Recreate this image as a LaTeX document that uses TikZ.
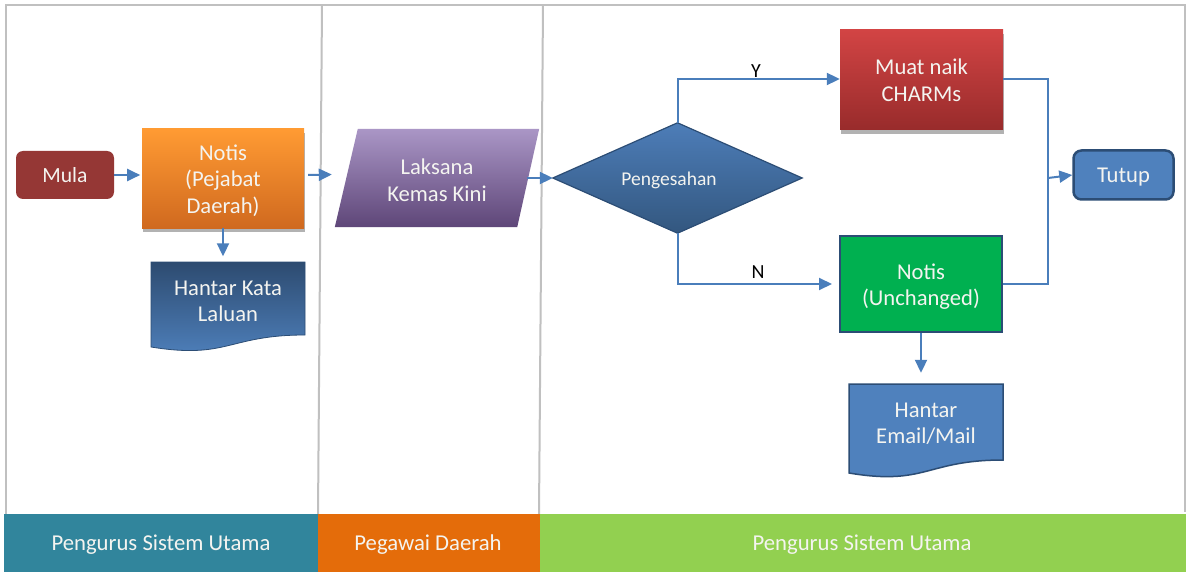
\documentclass[tikz,border=0pt]{standalone}
\usepackage{fontspec}
\setmainfont{Carlito}
\usetikzlibrary{arrows.meta,calc,shadows}

\definecolor{framegray}{HTML}{C0C0C0}
\definecolor{flowblue}{HTML}{4A7EBB}
\definecolor{edgenavy}{HTML}{2C4D75}
\definecolor{mulared}{HTML}{953735}
\definecolor{orangetop}{HTML}{FF9B33}
\definecolor{orangebot}{HTML}{D0691F}
\definecolor{docdark}{HTML}{2D4B70}
\definecolor{doclight}{HTML}{4F81BD}
\definecolor{purpletop}{HTML}{AA96C6}
\definecolor{purplebot}{HTML}{5E4678}
\definecolor{diatop}{HTML}{4D7DB8}
\definecolor{diabot}{HTML}{33577F}
\definecolor{redtop}{HTML}{D24444}
\definecolor{redbot}{HTML}{982B2B}
\definecolor{okgreen}{HTML}{00B050}
\definecolor{laneteal}{HTML}{31859C}
\definecolor{laneorange}{HTML}{E46C0A}
\definecolor{lanegreen}{HTML}{92D050}
\definecolor{softwhite}{HTML}{F4F4F0}

\begin{document}
\begin{tikzpicture}[x=1pt,y=-1pt,
  txt/.style={text=softwhite, font=\fontsize{22.6}{26.5}\selectfont, align=center, inner sep=0pt},
  flow/.style={draw=flowblue, line width=2pt, -{Triangle[length=13pt,width=12pt]}},
  link/.style={draw=flowblue, line width=2pt},
  lane/.style={draw=framegray, line width=2pt},
  banner/.style={text=softwhite, font=\fontsize{22.7}{26}\selectfont},
  shade1/.style={drop shadow={shadow xshift=1pt, shadow yshift=-4pt, fill=black, opacity=0.3}}
]
\useasboundingbox (0,0) rectangle (1188,572);
\fill[white] (0,0) rectangle (1188,572);

% swimlane frame and dividers
\draw[lane] (6,514) -- (6,5) -- (1185,5) -- (1185,512);
\draw[lane] (322,5) -- (318,514);
\draw[lane] (543,5) -- (539,514);

% lane banners
\fill[laneteal]   (4,514)   rectangle (318,572);
\fill[laneorange] (318,514) rectangle (540,572);
\fill[lanegreen]  (540,514) rectangle (1186,572);
\node[banner] (lane1) at (161,545) {Pengurus Sistem Utama};
\node[banner] (lane2) at (428,545) {Pegawai Daerah};
\node[banner] (lane3) at (862,545) {Pengurus Sistem Utama};

% start
\node[txt, font=\fontsize{21.6}{26}\selectfont, fill=mulared, rounded corners=7pt,
  minimum width=98pt, minimum height=48pt] (mula) at (65,175) {Mula};

% notification to district officer
\node[shade1, top color=orangetop, bottom color=orangebot, minimum width=162pt, minimum height=99pt]
  (notis) at (223,178.5) {};
\node[txt] (notistxt) at (223,180.5) {Notis\\(Pejabat\\Daerah)};

% document: send password
\shade[top color=docdark, bottom color=doclight, draw=edgenavy, line width=0.8pt]
  (151,262) -- (305,262) -- (305,335)
  .. controls (228,335) and (228,359.5) .. (151,347) -- cycle;
\node[txt, minimum width=154pt, minimum height=78pt] (hkl) at (228,301.5) {Hantar Kata\\Laluan};

% update step (parallelogram)
\node[txt, minimum width=182pt, minimum height=98pt] (laksana) at (437,178) {};
\shade[top color=purpletop, bottom color=purplebot]
  ($(laksana.north west)+(12,0)$) -- ($(laksana.north east)+(11,0)$)
  -- ($(laksana.south east)+(-11,0)$) -- ($(laksana.south west)+(-11,0)$) -- cycle;
\node[txt] (laksanatxt) at (437,180) {Laksana\\Kemas Kini};

% decision
\node[minimum width=249pt, minimum height=110pt, inner sep=0pt] (dia) at (677.5,178) {};
\shade[top color=diatop, bottom color=diabot, draw=edgenavy, line width=1.2pt]
  (dia.west) -- (dia.north) -- (dia.east) -- (dia.south) -- cycle;
\node[txt, font=\fontsize{19.5}{24}\selectfont] (diatxt) at (669,180.5) {Pengesahan};

% upload
\node[txt, shade1, top color=redtop, bottom color=redbot, minimum width=163pt, minimum height=100pt]
  (muat) at (921.5,80) {Muat naik\\CHARMs};

% unchanged notification
\node[fill=okgreen, draw=edgenavy, line width=2pt, minimum width=162pt, minimum height=96pt]
  (hijau) at (921,284) {};
\node[txt] (hijautxt) at (921,286.5) {Notis\\(Unchanged)};

% document: send email/mail
\fill[doclight, draw=edgenavy, line width=1.5pt]
  (849,384) -- (1003,384) -- (1003,460)
  .. controls (926,460) and (926,486) .. (849,473) -- cycle;
\node[txt, minimum width=154pt, minimum height=79pt] (emel) at (926,423.5) {Hantar\\Email/Mail};

% end
\node[txt, fill=doclight, draw=edgenavy, line width=2.5pt, rounded corners=8pt,
  minimum width=100pt, minimum height=49pt, text height=15pt, text depth=0pt]
  (tutup) at (1123.5,175) {Tutup};

% connectors
\draw[flow] (mula.east) -- ++(26,0);
\draw[flow] (notis.south) -- ($(notis.south |- hkl.north)+(0,-6)$);
\draw[flow] ($(notis.east)+(4,-3.5)$) -- ($(laksana.west)+(-14,-3.5)$);
\draw[flow] ($(laksana.east)+(-1,0)$) -- (dia.west);
\draw[flow] (dia.north) |- ($(muat.west)+(0,-1)$);
\draw[flow] (dia.south) |- ($(hijau.west)+(-7,0)$);
\node[font=\fontsize{20}{24}\selectfont] (ylab) at (756,71) {Y};
\node[font=\fontsize{20}{24}\selectfont] (nlab) at (758,272) {N};

\coordinate (join) at (1048,178);
\draw[link] ($(muat.east)+(0,-1)$) -| (join);
\draw[link] (hijau.east) -| (join);
\draw[flow] (join) -- (tutup.west);
\draw[flow] (hijau.south) -- ($(hijau.south |- emel.north)+(0,-11)$);

\end{tikzpicture}
\end{document}
